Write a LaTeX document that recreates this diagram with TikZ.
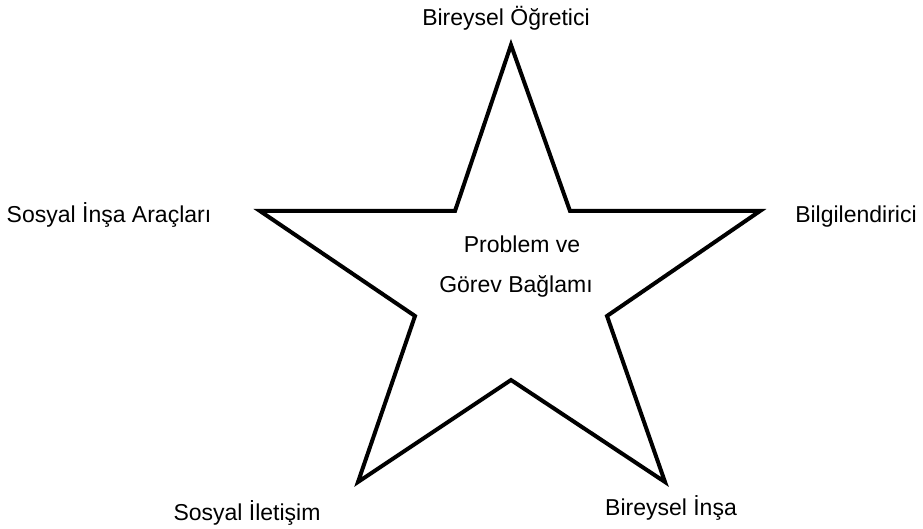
\documentclass[tikz,border=0pt]{standalone}
\usepackage{fontspec}
\setmainfont{Liberation Sans}
\usetikzlibrary{positioning}

\begin{document}
\begin{tikzpicture}[x=1pt,y=-1pt,lbl/.style={anchor=base,inner sep=0pt,font=\fontsize{23}{38}\selectfont},starline/.style={draw,line width=4pt,miter limit=20}]
  \useasboundingbox (0,0) rectangle (923,529);
  % star outline
  \coordinate (ptop) at (511,45);
  \coordinate (pright) at (760,211);
  \coordinate (pbr) at (665,482);
  \coordinate (pbl) at (358,482);
  \coordinate (pleft) at (260,211);
  \draw[starline] (ptop) -- (570,211) -- (pright) -- (607,316) -- (pbr) -- (511,380) -- (pbl) -- (415,316) -- (pleft) -- (455,211) -- cycle;
  % labels at the points
  \node[lbl] (tutor) at (506,26) {Bireysel Öğretici};
  \node[lbl] (info) at (856,223) {Bilgilendirici};
  \node[lbl] (socbuild) at (109,223) {Sosyal İnşa Araçları};
  \node[lbl] (soccomm) at (247,520) {Sosyal İletişim};
  \node[lbl] (indbuild) at (671,515) {Bireysel İnşa};
  \node[lbl] (ctx1) at (522,253) {Problem ve};
  \node[lbl] (ctx2) at (516,292) {Görev Bağlamı};
\end{tikzpicture}
\end{document}
